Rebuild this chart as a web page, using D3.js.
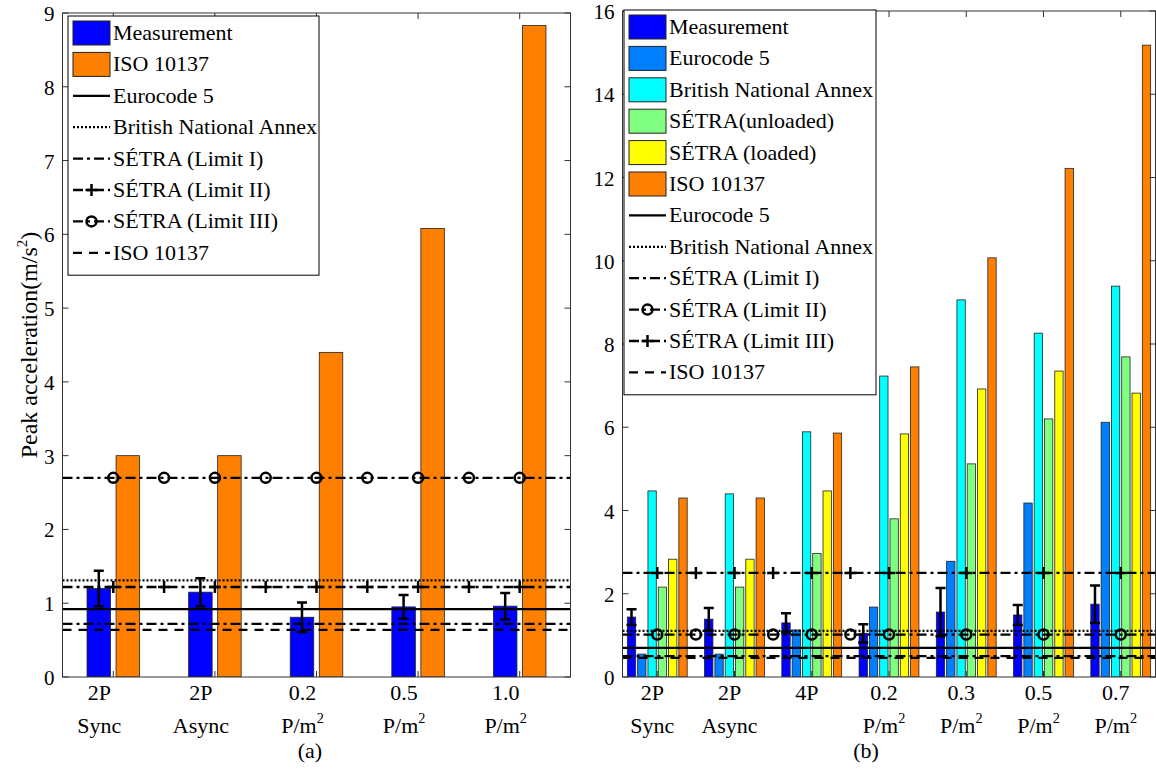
<!DOCTYPE html>
<html>
<head>
<meta charset="utf-8" />
<script src="https://d3js.org/d3.v7.min.js"></script>
<style>
  body { margin: 0; background: #fff; }
</style>
</head>
<body>
<div id="chart"></div>
<script>
// ---------- panel (a) ----------
const catsA = [["2P", "Sync"], ["2P", "Async"], ["0.2", "P/m^2"], ["0.5", "P/m^2"], ["1.0", "P/m^2"]];
const barNamesA = ["Measurement", "ISO 10137"];
const measA = [1.2, 1.15, 0.81, 0.95, 0.96];
const errA = [0.24, 0.19, 0.2, 0.16, 0.18];
const isoA = [3.0, 3.0, 4.4, 6.08, 8.83];
const lineNamesA = ["Eurocode 5", "British National Annex", "SÉTRA (Limit I)", "SÉTRA (Limit II)", "SÉTRA (Limit III)", "ISO 10137"];
const lineValuesA = [0.92, 1.31, 0.72, 1.22, 2.7, 0.64];
const markerXA = [1, 1.5, 2, 2.5, 3, 3.5, 4, 4.5, 5];
const yTicksA = [0, 1, 2, 3, 4, 5, 6, 7, 8, 9];

// ---------- panel (b) ----------
const catsB = [["2P", "Sync"], ["2P", "Async"], ["4P", ""], ["0.2", "P/m^2"], ["0.3", "P/m^2"], ["0.5", "P/m^2"], ["0.7", "P/m^2"]];
const barNamesB = ["Measurement", "Eurocode 5", "British National Annex", "SÉTRA(unloaded)", "SÉTRA (loaded)", "ISO 10137"];
const measB = [1.44, 1.39, 1.3, 1.05, 1.56, 1.49, 1.75];
const errB = [0.19, 0.27, 0.23, 0.22, 0.58, 0.24, 0.45];
const eurocodeB = [0.55, 0.55, 1.13, 1.68, 2.78, 4.18, 6.12];
const bnaB = [4.47, 4.4, 5.89, 7.23, 9.06, 8.26, 9.39];
const setraUnloadedB = [2.16, 2.16, 2.97, 3.8, 5.12, 6.2, 7.69];
const setraLoadedB = [2.83, 2.83, 4.47, 5.84, 6.92, 7.35, 6.82];
const isoB = [4.3, 4.3, 5.86, 7.45, 10.07, 12.22, 15.18];
const lineNamesB = ["Eurocode 5", "British National Annex", "SÉTRA (Limit I)", "SÉTRA (Limit II)", "SÉTRA (Limit III)", "ISO 10137"];
const lineValuesB = [0.7, 1.11, 0.5, 1.02, 2.5, 0.46];
const markerXB = [1, 1.5, 2, 2.5, 3, 3.5, 4, 5, 6, 7];
const yTicksB = [0, 2, 4, 6, 8, 10, 12, 14, 16];

const FONT = "'Liberation Serif', 'Times New Roman', Times, serif";
const FS = 22;

const svg = d3.select("#chart").append("svg").attr("width", 1156).attr("height", 770)
  .attr("font-family", FONT).style("font-family", FONT);
svg.append("rect").attr("width", 1156).attr("height", 770).attr("fill", "#fff");

// line styles in order: solid, dotted, dash-dot, dash-dot (+ marker), dash-dot (+ marker), dashed
const dashes = [null, "2,2", "10,4,3,4", "10,4,3,4", "10,4,3,4", "9,7"];

function addText(sel, str, size) {
  // "P/m^2" -> P/m with superscript 2
  const parts = str.split("^");
  sel.append("tspan").text(parts[0]);
  if (parts.length > 1) {
    sel.append("tspan").attr("dy", -10).attr("font-size", size * 0.65).text(parts[1]);
  }
}

function marker(g, type, cx, cy) {
  if (type == "circle") {
    g.append("circle").attr("cx", cx).attr("cy", cy).attr("r", 5)
      .attr("fill", "none").attr("stroke", "#000").attr("stroke-width", 2.5);
  } else if (type == "plus") {
    g.append("path").attr("d", `M${cx - 6},${cy}H${cx + 6}M${cx},${cy - 6}V${cy + 6}`)
      .attr("stroke", "#000").attr("stroke-width", 2.5);
  }
}

function panel(cfg) {
  const top = cfg.top, bottom = 677;
  const x = d3.scaleLinear().domain(cfg.xdom).range([cfg.left, cfg.right]);
  const y = d3.scaleLinear().domain([0, cfg.ymax]).range([bottom, top]);
  const g = svg.append("g");
  const clipId = "clip" + cfg.id;
  svg.append("clipPath").attr("id", clipId).append("rect")
    .attr("x", cfg.left).attr("y", top).attr("width", cfg.right - cfg.left).attr("height", bottom - top);
  const plot = g.append("g").attr("clip-path", `url(#${clipId})`);

  const n = cfg.series.length;
  const slot = cfg.groupWidth / n;
  const bw = slot * 0.81;
  const px = (u) => x(u) - x(0);

  cfg.series.forEach((vals, j) => {
    const off = (j - (n - 1) / 2) * slot;
    plot.selectAll(null).data(vals).enter().append("rect")
      .attr("x", (d, i) => x(i + 1 + off - bw / 2))
      .attr("y", (d) => y(d))
      .attr("width", px(bw))
      .attr("height", (d) => y(0) - y(d))
      .attr("fill", cfg.colors[j])
      .attr("stroke", "#222")
      .attr("stroke-width", 0.8);
  });

  // horizontal reference lines
  cfg.lineValues.forEach((v, k) => {
    plot.append("line")
      .attr("x1", cfg.left).attr("x2", cfg.right)
      .attr("y1", y(v)).attr("y2", y(v))
      .attr("stroke", "#000").attr("stroke-width", 2.3)
      .attr("stroke-dasharray", dashes[k]);
    if (cfg.markers[k]) {
      cfg.markerX.forEach((mx) => marker(plot, cfg.markers[k], x(mx), y(v)));
    }
  });

  // error bars on measurement series
  const off0 = (0 - (n - 1) / 2) * slot;
  cfg.series[0].forEach((v, i) => {
    const cx = x(i + 1 + off0);
    const e = cfg.err[i];
    plot.append("path")
      .attr("d", `M${cx},${y(v + e)}V${y(v - e)}M${cx - 5},${y(v + e)}H${cx + 5}M${cx - 5},${y(v - e)}H${cx + 5}`)
      .attr("stroke", "#000").attr("stroke-width", 2.5).attr("fill", "none");
  });

  // frame and ticks
  g.append("rect").attr("x", cfg.left).attr("y", top)
    .attr("width", cfg.right - cfg.left).attr("height", bottom - top)
    .attr("fill", "none").attr("stroke", "#333").attr("stroke-width", 1);
  cfg.yTicks.forEach((t) => {
    g.append("path").attr("d", `M${cfg.left},${y(t)}h6M${cfg.right},${y(t)}h-6`)
      .attr("stroke", "#333").attr("stroke-width", 1);
    g.append("text").attr("x", cfg.left - 8).attr("y", y(t) + 8)
      .attr("text-anchor", "end").attr("font-size", 21).text(t);
  });
  cfg.cats.forEach((c, i) => {
    const cx = x(i + 1);
    g.append("path").attr("d", `M${cx},${bottom}v-6M${cx},${top}v6`)
      .attr("stroke", "#333").attr("stroke-width", 1);
    const lx = cx + cfg.labelShift;
    addText(g.append("text").attr("x", lx).attr("y", 700).attr("text-anchor", "middle").attr("font-size", FS), c[0], FS);
    addText(g.append("text").attr("x", lx).attr("y", 733).attr("text-anchor", "middle").attr("font-size", FS), c[1], FS);
  });
  g.append("text").attr("x", cfg.captionX).attr("y", 758).attr("text-anchor", "middle")
    .attr("font-size", FS).text(cfg.caption);

  // legend
  const entries = cfg.barNames.map((name, j) => ({ name, color: cfg.colors[j] }))
    .concat(cfg.lineNames.map((name, k) => ({ name, dash: dashes[k], marker: cfg.markers[k], line: true })));
  const lg = g.append("g");
  lg.append("rect").attr("x", cfg.legX).attr("y", cfg.legY)
    .attr("width", cfg.legW).attr("height", entries.length * 31.4 + 8)
    .attr("fill", "#fff").attr("stroke", "#000").attr("stroke-width", 1);
  entries.forEach((en, k) => {
    const cy = cfg.legY + 17 + k * 31.4;
    const sx = cfg.legX + 5;
    if (en.line) {
      lg.append("line").attr("x1", sx).attr("x2", sx + 37).attr("y1", cy).attr("y2", cy)
        .attr("stroke", "#000").attr("stroke-width", 2.3).attr("stroke-dasharray", en.dash);
      if (en.marker) marker(lg, en.marker, sx + 18.5, cy);
    } else {
      lg.append("rect").attr("x", sx).attr("y", cy - 12).attr("width", 37).attr("height", 24)
        .attr("fill", en.color).attr("stroke", "#222").attr("stroke-width", 1);
    }
    lg.append("text").attr("x", sx + 40).attr("y", cy + 7).attr("font-size", FS).text(en.name);
  });
  return { x, y };
}

panel({
  id: "a", left: 62.5, right: 570.5, top: 13, xdom: [0.5, 5.5], ymax: 9,
  series: [measA, isoA], err: errA, colors: ["#0000ff", "#ff8000"], groupWidth: 2 / 3.5,
  lineValues: lineValuesA, lineNames: lineNamesA, markers: [null, null, null, "plus", "circle", null],
  markerX: markerXA, yTicks: yTicksA, cats: catsA, barNames: barNamesA, labelShift: -14,
  caption: "(a)", captionX: 310, legX: 68, legY: 16, legW: 251
});

panel({
  id: "b", left: 622.5, right: 1155.5, top: 11, xdom: [0.55, 7.45], ymax: 16,
  series: [measB, eurocodeB, bnaB, setraUnloadedB, setraLoadedB, isoB], err: errB,
  colors: ["#0000ff", "#0080ff", "#00ffff", "#80ff80", "#ffff00", "#ff8000"], groupWidth: 0.8,
  lineValues: lineValuesB, lineNames: lineNamesB, markers: [null, null, null, "circle", "plus", null],
  markerX: markerXB, yTicks: yTicksB, cats: catsB, barNames: barNamesB, labelShift: -5,
  caption: "(b)", captionX: 866, legX: 624, legY: 10, legW: 252
});

// y axis title, panel (a)
const yl = svg.append("text").attr("transform", "translate(37,345) rotate(-90)")
  .attr("text-anchor", "middle").attr("font-size", 24);
yl.append("tspan").text("Peak acceleration(m/s");
yl.append("tspan").attr("dy", -10).attr("font-size", 15).text("2");
yl.append("tspan").attr("dy", 10).text(")");
</script>
</body>
</html>
